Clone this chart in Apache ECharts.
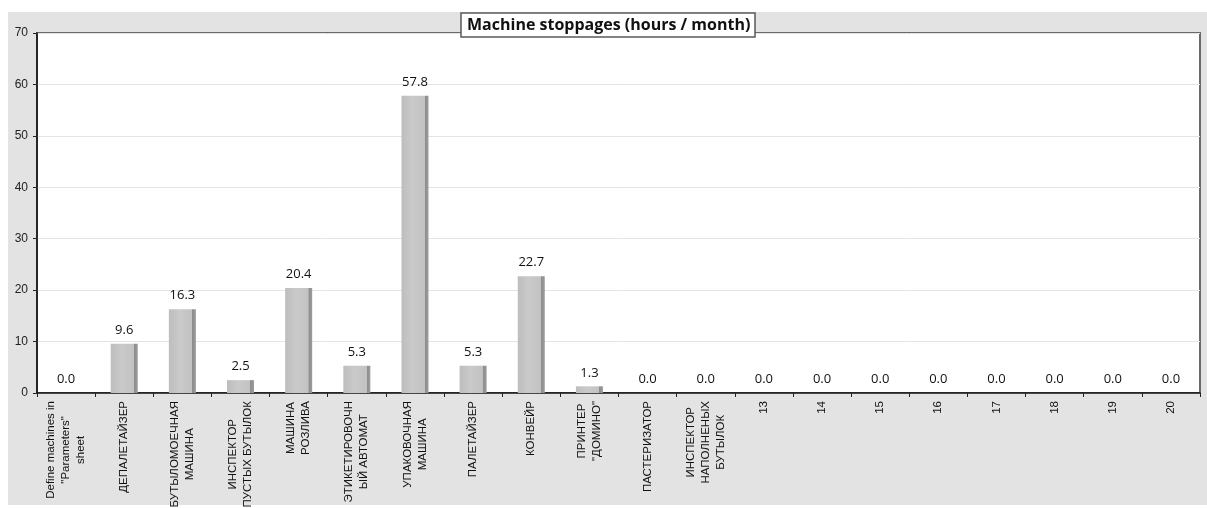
<!DOCTYPE html>
<html>
<head>
<meta charset="utf-8">
<script src="https://cdn.jsdelivr.net/npm/echarts@6/dist/echarts.min.js"></script>
<style>
  html, body { margin: 0; padding: 0; background: #fff; }
  #panel { position: absolute; left: 8px; top: 12px; width: 1199px; height: 493px; background: #e3e3e3; }
  #chart { position: absolute; left: 0; top: 0; width: 1207px; height: 508px; }
</style>
</head>
<body>
<div id="panel"></div>
<div id="chart"></div>
<script>
  // machine names as they appear in the sheet (line breaks kept)
  const machines = [
    'Define machines in\n"Parameters"\nsheet',
    'ДЕПАЛЕТАЙЗЕР',
    'БУТЫЛОМОЕЧНАЯ\nМАШИНА',
    'ИНСПЕКТОР\nПУСТЫХ БУТЫЛОК',
    'МАШИНА\nРОЗЛИВА',
    'ЭТИКЕТИРОВОЧН\nЫЙ АВТОМАТ',
    'УПАКОВОЧНАЯ\nМАШИНА',
    'ПАЛЕТАЙЗЕР',
    'КОНВЕЙР',
    'ПРИНТЕР\n"ДОМИНО"',
    'ПАСТЕРИЗАТОР',
    'ИНСПЕКТОР\nНАПОЛНЕНЫХ\nБУТЫЛОК',
    '13', '14', '15', '16', '17', '18', '19', '20'
  ];

  const stoppageHours = [
    0.0, 9.6, 16.3, 2.5, 20.4, 5.3, 57.8, 5.3, 22.7, 1.3,
    0.0, 0.0, 0.0, 0.0, 0.0, 0.0, 0.0, 0.0, 0.0, 0.0
  ];

  const yMin = 0;
  const yMax = 70;
  const yStep = 10;

  const chart = echarts.init(document.getElementById('chart'));

  const barColor = {
    type: 'linear', x: 0, y: 0, x2: 1, y2: 0,
    colorStops: [
      {offset: 0, color: '#bdbdbd'},
      {offset: 0.4, color: '#cacaca'},
      {offset: 0.86, color: '#c2c2c2'},
      {offset: 0.87, color: '#8c8c8c'},
      {offset: 1, color: '#9c9c9c'}
    ]
  };

  const option = {
    animation: false,
    title: {
      text: 'Machine stoppages (hours / month)',
      left: 461,
      top: 13,
      padding: [4, 5, 4, 6],
      backgroundColor: '#fff',
      borderColor: '#5a5a5a',
      borderWidth: 1.5,
      textStyle: {
        fontFamily: 'Open Sans',
        fontSize: 16,
        fontWeight: 'bold',
        color: '#111'
      }
    },
    grid: {
      left: 37,
      right: 7,
      top: 33,
      bottom: 115,
      outerBoundsMode: 'none',
      show: true,
      backgroundColor: '#fff',
      borderColor: '#6a6a6a',
      borderWidth: 2
    },
    xAxis: {
      type: 'category',
      data: machines,
      axisLine: {lineStyle: {color: '#111', width: 1.5}},
      axisTick: {show: true, length: 4, lineStyle: {color: '#222'}},
      axisLabel: {
        interval: 0,
        rotate: 90,
        margin: 8,
        fontFamily: 'Liberation Sans',
        fontSize: 11.5,
        lineHeight: 15,
        color: '#111',
        formatter: (name) => name.split('\n').map(line => '{c|' + line + '}').join('\n'),
        rich: {
          c: {align: 'center', fontFamily: 'Liberation Sans', fontSize: 11.5, lineHeight: 15, color: '#111'}
        }
      }
    },
    yAxis: {
      type: 'value',
      min: yMin,
      max: yMax,
      interval: yStep,
      axisLine: {show: true, lineStyle: {color: '#111', width: 1.5}},
      axisTick: {show: true, length: 4, lineStyle: {color: '#222'}},
      axisLabel: {
        margin: 9,
        fontFamily: 'Liberation Sans',
        fontSize: 12,
        color: '#222'
      },
      splitLine: {lineStyle: {color: '#e4e4e4'}}
    },
    series: [{
      type: 'bar',
      data: stoppageHours,
      barWidth: 27,
      itemStyle: {color: barColor},
      label: {
        show: true,
        position: 'top',
        distance: 7,
        fontFamily: 'Open Sans',
        fontSize: 13,
        color: '#111',
        formatter: (p) => p.value.toFixed(1)
      }
    }]
  };

  chart.setOption(option);
</script>
</body>
</html>
